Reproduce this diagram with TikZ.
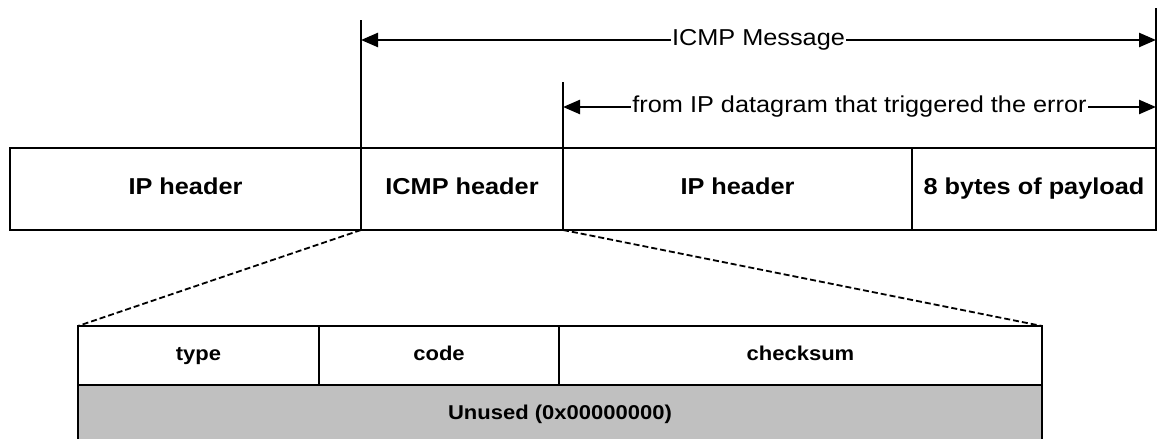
\documentclass[tikz,border=0pt]{standalone}
\usepackage{fontspec}
\setmainfont{Liberation Sans}[FakeStretch=1.1]
\usetikzlibrary{arrows.meta,positioning}
\definecolor{unusedgray}{RGB}{192,192,192}

\begin{document}
\begin{tikzpicture}[>={Triangle[length=17pt,width=14pt]}, x=1pt, y=1pt, line width=2.4pt]
	\tikzset{field/.style={draw, outer sep=0pt, inner sep=0pt, minimum height=82pt, text height=17pt, text depth=5pt, font=\fontsize{23}{27}\selectfont\bfseries}}
	\tikzset{cell/.style={draw, outer sep=0pt, inner sep=0pt, minimum height=59pt, text height=15pt, text depth=4pt, font=\fontsize{20}{24}\selectfont\bfseries}}
	\tikzset{span/.style={midway, fill=white, inner sep=1.5pt, font=\fontsize{23}{27}\selectfont}}
	\tikzset{zoomline/.style={line width=1.8pt, dash pattern=on 6pt off 3pt}}
	\useasboundingbox (0,0) rectangle (1165,439);
	% packet
	\node[field, minimum width=351pt, anchor=south west] (iphdr) at (10,209) {IP header};
	\node[field, minimum width=202pt, right=0pt of iphdr] (icmphdr) {ICMP header};
	\node[field, minimum width=349pt, right=0pt of icmphdr] (origip) {IP header};
	\node[field, minimum width=244pt, right=0pt of origip] (payload) {8 bytes of payload};
	% extension lines
	\draw (icmphdr.north west) -- ++(0,128) coordinate (msgtop);
	\draw (origip.north west) -- ++(0,66) coordinate (errtop);
	\draw (payload.north east) -- ++(0,140) coordinate (endtop);
	\path (icmphdr.north west) ++(0,108) coordinate (msgA);
	\path (payload.north east) ++(0,108) coordinate (msgB);
	\path (origip.north west) ++(0,41) coordinate (errA);
	\path (payload.north east) ++(0,41) coordinate (errB);
	\draw[<->] (msgA) -- (msgB) node[span] {ICMP Message};
	\draw[<->] (errA) -- (errB) node[span] {from IP datagram that triggered the error};
	% icmp header detail
	\node[cell, minimum width=241pt, anchor=north west] (type) at (78,113) {type};
	\node[cell, minimum width=240pt, right=0pt of type] (code) {code};
	\node[cell, minimum width=483pt, right=0pt of code] (cksum) {checksum};
	\node[cell, fill=unusedgray, minimum width=964pt, anchor=north west] (unused) at (type.south west) {Unused (0x00000000)};
	\draw[zoomline] (icmphdr.south west) -- (type.north west);
	\draw[zoomline] (icmphdr.south east) -- (cksum.north east);
\end{tikzpicture}
\end{document}
